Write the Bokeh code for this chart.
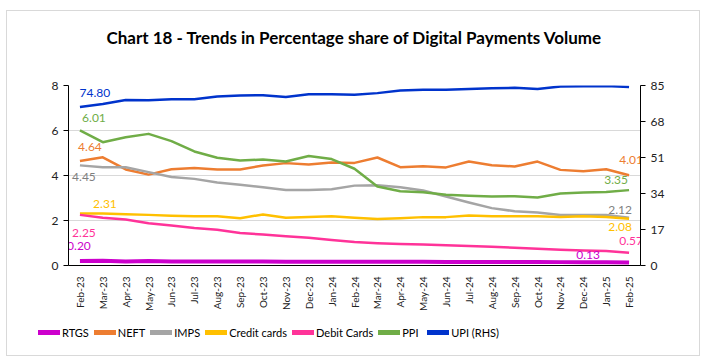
import math
from bokeh.plotting import figure
from bokeh.layouts import column, row
from bokeh.models import (FactorRange, Range1d, LinearAxis, FixedTicker, ColumnDataSource,
                          Legend, LegendItem, Title)
from bokeh.core.properties import value
from bokeh.embed import file_html
from bokeh.resources import INLINE

months = ["Feb-23", "Mar-23", "Apr-23", "May-23", "Jun-23", "Jul-23", "Aug-23", "Sep-23",
          "Oct-23", "Nov-23", "Dec-23", "Jan-24", "Feb-24", "Mar-24", "Apr-24", "May-24",
          "Jun-24", "Jul-24", "Aug-24", "Sep-24", "Oct-24", "Nov-24", "Dec-24", "Jan-25", "Feb-25"]

rtgs = [0.20, 0.21, 0.18, 0.20, 0.18, 0.18, 0.18, 0.18, 0.18, 0.17, 0.17, 0.17, 0.17,
        0.17, 0.17, 0.17, 0.16, 0.16, 0.16, 0.16, 0.16, 0.15, 0.15, 0.15, 0.13]
neft = [4.64, 4.81, 4.27, 4.04, 4.28, 4.33, 4.27, 4.27, 4.44, 4.55, 4.49, 4.58, 4.56,
        4.80, 4.37, 4.41, 4.36, 4.62, 4.46, 4.40, 4.62, 4.25, 4.19, 4.28, 4.01]
imps = [4.45, 4.37, 4.37, 4.15, 3.93, 3.85, 3.69, 3.59, 3.48, 3.36, 3.36, 3.39, 3.55,
        3.57, 3.48, 3.33, 3.07, 2.80, 2.55, 2.41, 2.36, 2.24, 2.25, 2.24, 2.12]
credit = [2.31, 2.31, 2.28, 2.25, 2.21, 2.19, 2.19, 2.10, 2.27, 2.12, 2.16, 2.19, 2.12,
          2.07, 2.10, 2.15, 2.15, 2.22, 2.19, 2.19, 2.19, 2.16, 2.19, 2.16, 2.08]
debit = [2.25, 2.12, 2.04, 1.88, 1.78, 1.67, 1.59, 1.44, 1.38, 1.30, 1.23, 1.13, 1.04,
         0.99, 0.96, 0.93, 0.90, 0.87, 0.83, 0.79, 0.74, 0.70, 0.67, 0.64, 0.57]
ppi = [6.01, 5.48, 5.70, 5.85, 5.53, 5.07, 4.79, 4.67, 4.71, 4.62, 4.87, 4.73, 4.30,
       3.51, 3.30, 3.26, 3.14, 3.10, 3.07, 3.08, 3.02, 3.20, 3.24, 3.27, 3.35]
upi = [74.80, 76.3, 78.2, 78.0, 78.5, 78.5, 79.8, 80.3, 80.4, 79.6, 80.9, 80.9, 80.6,
       81.4, 82.6, 83.0, 83.0, 83.3, 83.7, 83.9, 83.4, 84.5, 84.7, 84.8, 84.35]

left_ticks = [0, 2, 4, 6, 8]
right_ticks = [0, 17, 34, 51, 68, 85]

series = [
    ("RTGS", rtgs, "#CC00CC", 4, "default"),
    ("NEFT", neft, "#ED7D31", 2.5, "default"),
    ("IMPS", imps, "#A5A5A5", 2.5, "default"),
    ("Credit cards", credit, "#FFC000", 2.5, "default"),
    ("Debit Cards", debit, "#FF3399", 2.5, "default"),
    ("PPI", ppi, "#70AD47", 2.5, "default"),
    ("UPI (RHS)", upi, "#0033CC", 2.5, "right"),
]

FONT = "Lato"

p = figure(width=692, height=306, x_range=FactorRange(*months), y_range=Range1d(0, 8),
           output_backend="svg", toolbar_location=None,
           min_border_left=61, min_border_right=59, min_border_top=74, min_border_bottom=52)
p.extra_y_ranges = {"right": Range1d(0, 85)}

p.title.text = "Chart 18 - Trends in Percentage share of Digital Payments Volume"
p.title.align = "center"
p.title.text_font = "Lato"
p.title.text_font_size = "17px"
p.title.text_font_style = "bold"
p.title.text_color = "#000000"
p.add_layout(Title(text=" ", text_font_size="19px"), "above")

p.outline_line_color = None
p.xgrid.grid_line_color = None
p.ygrid.ticker = FixedTicker(ticks=left_ticks)
p.ygrid.grid_line_color = "#d9d9d9"

p.yaxis.ticker = FixedTicker(ticks=left_ticks)
p.yaxis.minor_tick_line_color = None
p.yaxis.major_tick_in = 0
p.yaxis.major_tick_out = 5
p.yaxis.major_label_text_font = "Lato"
p.yaxis.major_label_text_font_size = "12px"
p.yaxis.major_label_text_color = "#222222"
p.yaxis.axis_line_color = "#000000"
p.yaxis.major_tick_line_color = "#000000"

ra = LinearAxis(y_range_name="right", ticker=FixedTicker(ticks=right_ticks))
ra.minor_tick_line_color = None
ra.major_tick_in = 0
ra.major_tick_out = 5
ra.major_label_text_font = "Lato"
ra.major_label_text_font_size = "12px"
ra.major_label_text_color = "#222222"
ra.axis_line_color = "#000000"
ra.major_tick_line_color = "#000000"
p.add_layout(ra, "right")

p.xaxis.major_label_orientation = math.pi / 2
p.xaxis.major_tick_line_color = None
p.xaxis.minor_tick_line_color = None
p.xaxis.major_label_text_font = FONT
p.xaxis.major_label_text_font_size = "10px"
p.xaxis.major_label_text_color = "#222222"
p.xaxis.axis_line_color = "#000000"

for name, vals, color, lw, rng in series:
    p.line(x=months, y=vals, line_color=color, line_width=lw, line_join="round",
           y_range_name=rng)

lab_left = ColumnDataSource(dict(
    x=[months[0], months[0], months[0], months[0], months[0], months[0],
       months[-1], months[-1], months[-1], months[-1], months[-1], months[-1]],
    y=[ppi[0], neft[0], imps[0], credit[0], debit[0], rtgs[0],
       neft[-1], ppi[-1], imps[-1], credit[-1], debit[-1], rtgs[-1]],
    t=["%.2f" % v for v in [ppi[0], neft[0], imps[0], credit[0], debit[0], rtgs[0],
                             neft[-1], ppi[-1], imps[-1], credit[-1], debit[-1], rtgs[-1]]],
    dx=[14, 10, 4, 25, 4, -1, 2, -13, -9, -9, 2, -41],
    dy=[-12, -14, 12, -10, 18, -15, -15, -10, -8, 8, -12, -8],
    c=["#70AD47", "#ED7D31", "#7F7F7F", "#FFC000", "#FF3399", "#CC00CC",
       "#ED7D31", "#70AD47", "#7F7F7F", "#FFC000", "#FF3399", "#CC00CC"],
))
p.text(x="x", y="y", text="t", x_offset="dx", y_offset="dy", text_color="c",
       text_align="center", text_baseline="middle", text_font=value("Lato"),
       text_font_size="12px", source=lab_left)

lab_right = ColumnDataSource(dict(
    x=[months[0], months[-1]],
    y=[upi[0], upi[-1]],
    t=["%.2f" % upi[0], "%.2f" % upi[-1]],
    dx=[15, -9], dy=[-14, -14],
))
p.text(x="x", y="y", text="t", x_offset="dx", y_offset="dy", text_color="#0033CC",
       text_align="center", text_baseline="middle", text_font=value("Lato"),
       text_font_size="12px", source=lab_right, y_range_name="right")

# legend strip: series drawn out of view, only used for legend swatches
lg = figure(width=692, height=38, x_range=FactorRange(*months), y_range=Range1d(100, 101),
            output_backend="svg", toolbar_location=None, x_axis_type=None, y_axis_type=None,
            min_border_left=0, min_border_right=0, min_border_top=0, min_border_bottom=0)
lg.outline_line_color = None
lg.xgrid.grid_line_color = None
lg.ygrid.grid_line_color = None
items = []
for name, vals, color, lw, rng in series:
    r = lg.line(x=months, y=vals, line_color=color, line_width=5, line_cap="round")
    items.append(LegendItem(label=name, renderers=[r]))
legend = Legend(items=items, orientation="horizontal", location=(31, 13),
                border_line_alpha=0, background_fill_alpha=0, padding=0, margin=0,
                spacing=5, glyph_width=22, label_standoff=2,
                label_text_font=FONT, label_text_font_size="11px",
                label_text_color="#000000")
lg.add_layout(legend, "center")

layout = column(p, row(lg), spacing=0,
                styles={"border": "1px solid #d9d9d9", "margin-left": "6px", "margin-top": "10px"})

open("out.html", "w").write(file_html(layout, INLINE))
